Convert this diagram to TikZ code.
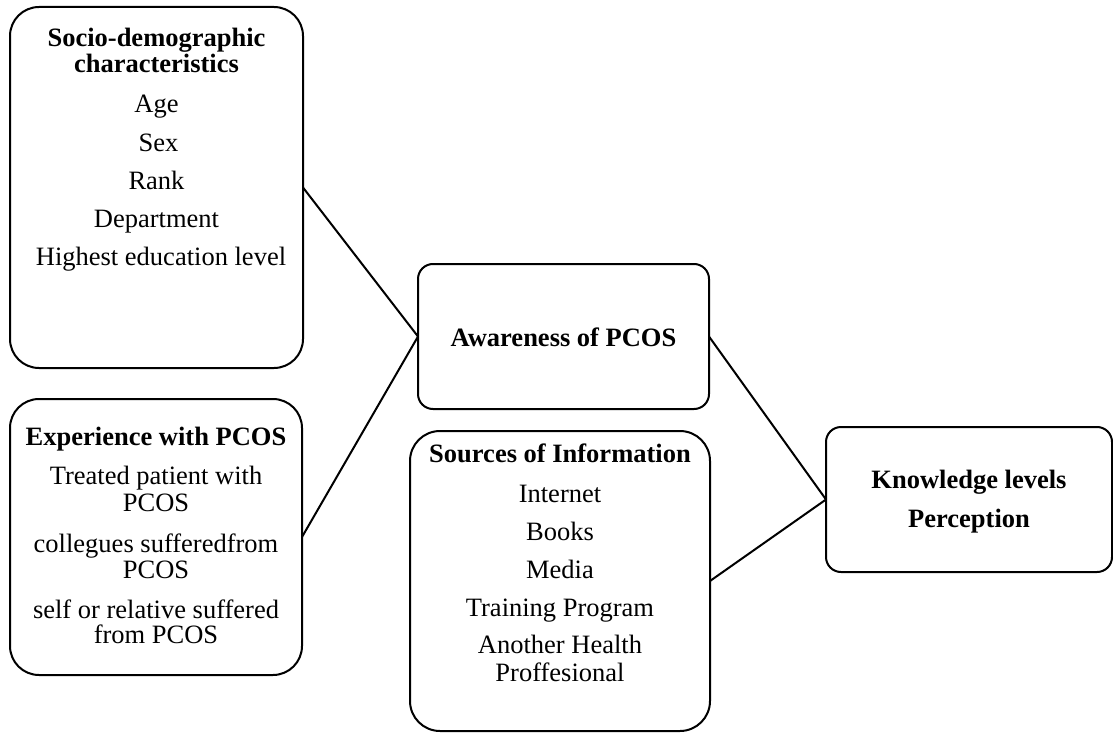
\documentclass[tikz,border=0pt]{standalone}
\usepackage{fontspec}
\setmainfont{Liberation Serif}
\begin{document}
\begin{tikzpicture}[x=1pt,y=-1pt,
  box/.style={draw, line width=2pt, inner sep=0pt, outer sep=0pt},
  ln/.style={anchor=base, inner sep=0pt, outer sep=0pt, font=\fontsize{26.5}{30}\selectfont},
  hd/.style={ln, font=\fontsize{26.5}{30}\selectfont\bfseries},
  conn/.style={draw, line width=2pt}]
\useasboundingbox (0,0) rectangle (1113,733);
% boxes
\node[box, minimum width=293pt, minimum height=361pt, rounded corners=29pt] (socio) at (156.5,187.5) {};
\node[box, minimum width=292pt, minimum height=276pt, rounded corners=29pt] (exper) at (156,537) {};
\node[box, minimum width=291pt, minimum height=145pt, rounded corners=15pt] (aware) at (563.5,336.5) {};
\node[box, minimum width=300pt, minimum height=300pt, rounded corners=30pt] (sources) at (560,581) {};
\node[box, minimum width=286pt, minimum height=145pt, rounded corners=15pt] (know) at (969,499.5) {};
% connectors
\draw[conn] (socio.east) -- (aware.west);
\draw[conn] (exper.east) -- (aware.west);
\draw[conn] (aware.east) -- (know.west);
\draw[conn] (sources.east) -- (know.west);
% socio-demographic text
\node[hd] (s1) at (156.5,47) {Socio-demographic};
\node[hd] (s2) at (156.5,73) {characteristics};
\node[ln] (s3) at (156.5,113) {Age};
\node[ln] (s4) at (158.5,151) {Sex};
\node[ln] (s5) at (156.5,189) {Rank};
\node[ln] (s6) at (156.5,227) {Department};
\node[ln] (s7) at (161,265.5) {Highest education level};
% experience text
\node[hd] (e1) at (156,445) {Experience with PCOS};
\node[ln] (e2) at (156,484) {Treated patient with};
\node[ln] (e3) at (156,511) {PCOS};
\node[ln] (e4) at (156,552) {collegues sufferedfrom};
\node[ln] (e5) at (156,578) {PCOS};
\node[ln] (e6) at (156,618) {self or relative suffered};
\node[ln] (e7) at (156,643) {from PCOS};
% awareness text
\node[hd] (a1) at (563.5,346) {Awareness of PCOS};
% sources text
\node[hd] (i1) at (560,462) {Sources of Information};
\node[ln] (i2) at (560,502) {Internet};
\node[ln] (i3) at (560,540) {Books};
\node[ln] (i4) at (560,578) {Media};
\node[ln] (i5) at (560,616) {Training Program};
\node[ln] (i6) at (560,653) {Another Health};
\node[ln] (i7) at (560,681) {Proffesional};
% knowledge text
\node[hd] (k1) at (969,488) {Knowledge levels};
\node[hd] (k2) at (969,527) {Perception};
\end{tikzpicture}
\end{document}
